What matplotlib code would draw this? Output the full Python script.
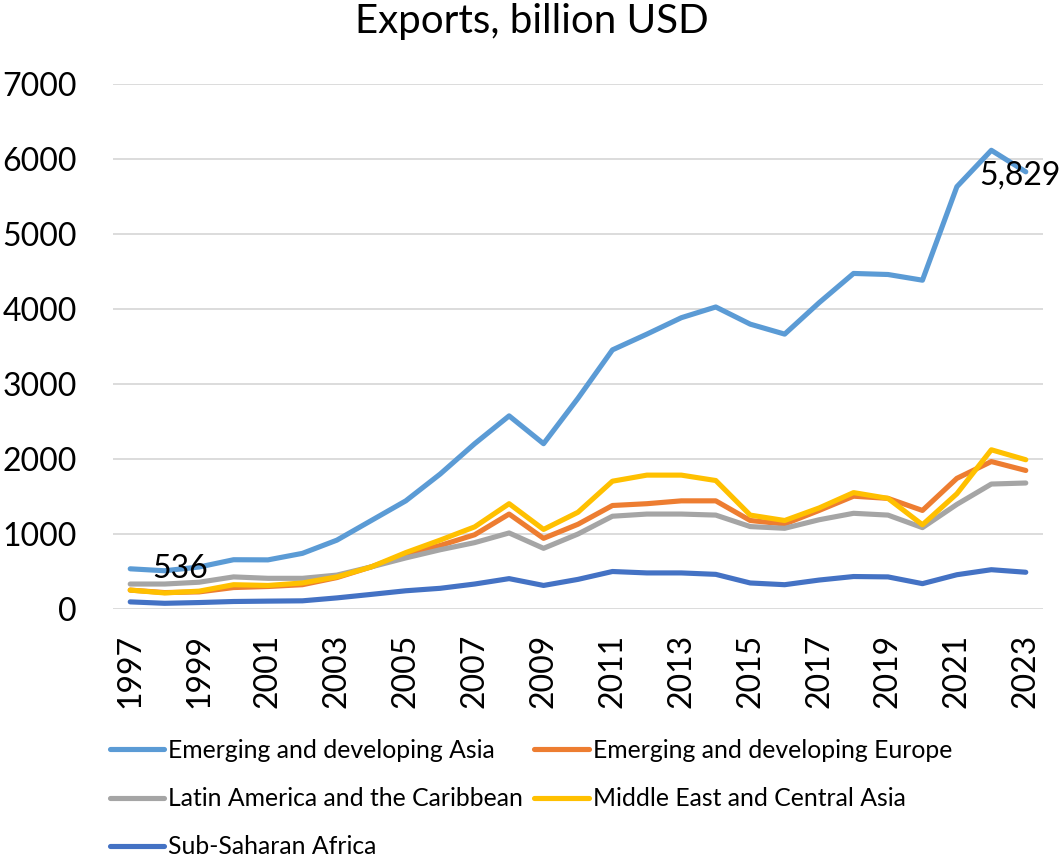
import matplotlib
matplotlib.use("Agg")
import matplotlib.pyplot as plt
import numpy as np

plt.rcParams["font.family"] = ["Lato", "DejaVu Sans"]

years = list(range(1997, 2024))

asia = [536, 510, 560, 657, 655, 742, 918, 1180, 1442, 1800, 2204, 2575, 2204,
        2810, 3455, 3665, 3884, 4027, 3798, 3665, 4084, 4474, 4460, 4384, 5631,
        6116, 5829]
europe = [252, 219, 228, 286, 300, 324, 419, 562, 728, 847, 990, 1266, 942,
          1130, 1380, 1404, 1442, 1442, 1180, 1133, 1314, 1504, 1475, 1314,
          1742, 1966, 1847]
latam = [333, 333, 357, 428, 409, 409, 452, 562, 681, 790, 885, 1014, 809,
         1000, 1237, 1266, 1266, 1252, 1099, 1076, 1190, 1276, 1252, 1085,
         1395, 1666, 1680]
mideast = [252, 214, 238, 324, 314, 347, 428, 562, 752, 919, 1095, 1404, 1061,
           1290, 1704, 1785, 1785, 1713, 1252, 1180, 1347, 1552, 1475, 1123,
           1537, 2123, 1990]
ssa = [95, 76, 86, 100, 105, 109, 148, 195, 243, 276, 333, 405, 314, 395, 500,
       481, 481, 462, 347, 324, 386, 433, 428, 338, 457, 524, 490]

series_names = ["Emerging and developing Asia", "Emerging and developing Europe",
                "Latin America and the Caribbean", "Middle East and Central Asia",
                "Sub-Saharan Africa"]
series_values = [asia, europe, latam, mideast, ssa]
colors = ["#5B9BD5", "#ED7D31", "#A5A5A5", "#FFC000", "#4472C4"]

W, H = 1063, 860
fig = plt.figure(figsize=(W / 100, H / 100), dpi=100)
ax = fig.add_axes([113 / W, 1 - 609 / H, (1043 - 113) / W, (609 - 84) / H])

x = np.arange(len(years))
handles = []
for name, vals, c in zip(series_names, series_values, colors):
    (ln,) = ax.plot(x, vals, color=c, lw=3.7, solid_joinstyle="round",
                    solid_capstyle="round", label=name, zorder=3)
    handles.append(ln)

ax.set_xlim(-0.5, len(years) - 0.5)
ax.set_ylim(0, 7000)
ax.set_yticks(np.arange(0, 7001, 1000))
ax.set_xticks(x[::2])
ax.set_xticklabels([str(y) for y in years[::2]], rotation=90)
ax.grid(axis="y", color="#D9D9D9", lw=1.3, zorder=0)
ax.grid(axis="x", visible=False)
for s in ax.spines.values():
    s.set_visible(False)
ax.tick_params(axis="y", length=0, pad=26, labelsize=23)
ax.tick_params(axis="x", length=0, pad=18, labelsize=23)

# data labels at the first and last points of the Asia series
ax.annotate(f"{asia[0]:,}", xy=(x[0], asia[0]), xytext=(16, 0),
            textcoords="offset points", ha="left", va="center", fontsize=23,
            zorder=5)
ax.annotate(f"{asia[-1]:,}", xy=(x[-1], asia[-1]), xytext=(-4, -3),
            textcoords="offset points", ha="center", va="center", fontsize=23,
            zorder=5)

fig.text(0.5, 1 - 21 / H, "Exports, billion USD", ha="center", va="center",
         fontsize=29)

order = [0, 2, 4, 1, 3]
leg = fig.legend([handles[i] for i in order], [series_names[i] for i in order],
                 ncol=2, loc="upper left", bbox_to_anchor=(110 / W, 1 - 739 / H),
                 frameon=False, fontsize=17.8, handlelength=2.2,
                 handletextpad=0.16, columnspacing=0.45, labelspacing=1.02,
                 borderaxespad=0, borderpad=0)

fig.savefig("out.png", dpi=100, facecolor="white")
